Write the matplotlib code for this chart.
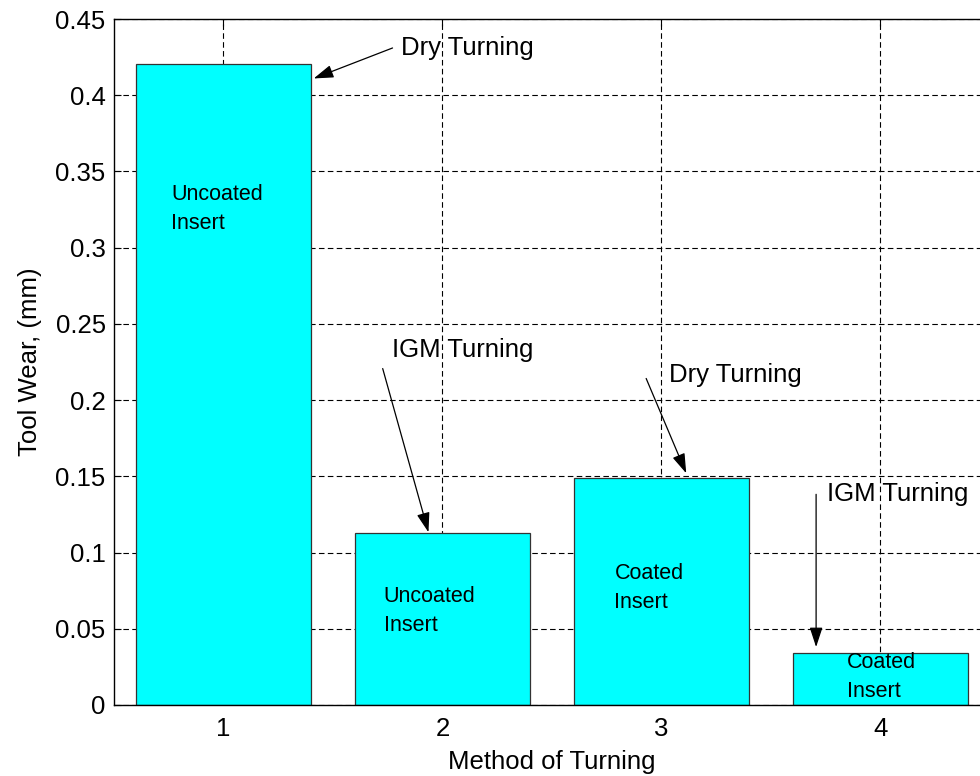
import matplotlib
matplotlib.use("Agg")
import matplotlib.pyplot as plt
from matplotlib.ticker import FixedLocator, FixedFormatter

plt.rcParams['font.family'] = ['Liberation Sans', 'DejaVu Sans']

methods = [1, 2, 3, 4]
tool_wear = [0.4203, 0.1131, 0.1489, 0.0343]
ytick_vals = [0, 0.05, 0.1, 0.15, 0.2, 0.25, 0.3, 0.35, 0.4, 0.45]
ytick_labels = ['0', '0.05', '0.1', '0.15', '0.2', '0.25', '0.3', '0.35', '0.4', '0.45']

# annotations: (text, text_xy, arrow_tail, arrow_head)
turning_labels = ['Dry Turning', 'IGM Turning', 'Dry Turning', 'IGM Turning']
turning_text_xy = [(1.809, 0.431), (1.768, 0.2332), (3.035, 0.2162), (3.756, 0.1382)]
arrow_tails = [(1.772, 0.431), (1.727, 0.2207), (2.930, 0.2142), (3.706, 0.1382)]
arrow_heads = [(1.412, 0.411), (1.936, 0.1133), (3.113, 0.152), (3.706, 0.038)]

insert_labels = ['Uncoated\nInsert', 'Uncoated\nInsert', 'Coated\nInsert', 'Coated\nInsert']
insert_xy = [(0.76, 0.3256), (1.731, 0.0616), (2.785, 0.0766), (3.847, 0.0183)]

fig = plt.figure(figsize=(9.8, 7.76), dpi=100)
ax = fig.add_axes([0.1163, 0.0915, 1.0102 - 0.1163, 0.9755 - 0.0915])

ax.bar(methods, tool_wear, width=0.8, color='#00FFFF', edgecolor='#333333',
       linewidth=0.9, zorder=3)

ax.set_xlim(0.5, 4.5)
ax.set_ylim(0, 0.45)
ax.xaxis.set_major_locator(FixedLocator(methods))
ax.yaxis.set_major_locator(FixedLocator(ytick_vals))
ax.yaxis.set_major_formatter(FixedFormatter(ytick_labels))
ax.tick_params(direction='in', length=5, labelsize=18.5, top=True, right=True)
ax.tick_params(axis='x', pad=9)
ax.tick_params(axis='y', pad=6)

ax.grid(True, color='black', linestyle=(0, (5, 3)), linewidth=0.8, zorder=1)
ax.set_axisbelow(True)
for s in ax.spines.values():
    s.set_linewidth(1.0)
    s.set_color('black')
    s.set_zorder(5)

ax.set_xlabel('Method of Turning', fontsize=18.5, labelpad=6)
ax.set_ylabel('Tool Wear, (mm)', fontsize=18.5, labelpad=10)

for lab, txy, tail, head in zip(turning_labels, turning_text_xy, arrow_tails, arrow_heads):
    ax.text(txy[0], txy[1], lab, fontsize=18.5, ha='left', va='center', zorder=6)
    ax.annotate('', xy=head, xytext=tail,
                arrowprops=dict(arrowstyle='-|>,head_length=0.55,head_width=0.18',
                                color='black', lw=0.9,
                                mutation_scale=22, shrinkA=0, shrinkB=0),
                zorder=6)

for lab, xy in zip(insert_labels, insert_xy):
    ax.text(xy[0], xy[1], lab, fontsize=15.5, ha='left', va='center',
            linespacing=1.5, zorder=6)

fig.savefig('out.png', dpi=100)
